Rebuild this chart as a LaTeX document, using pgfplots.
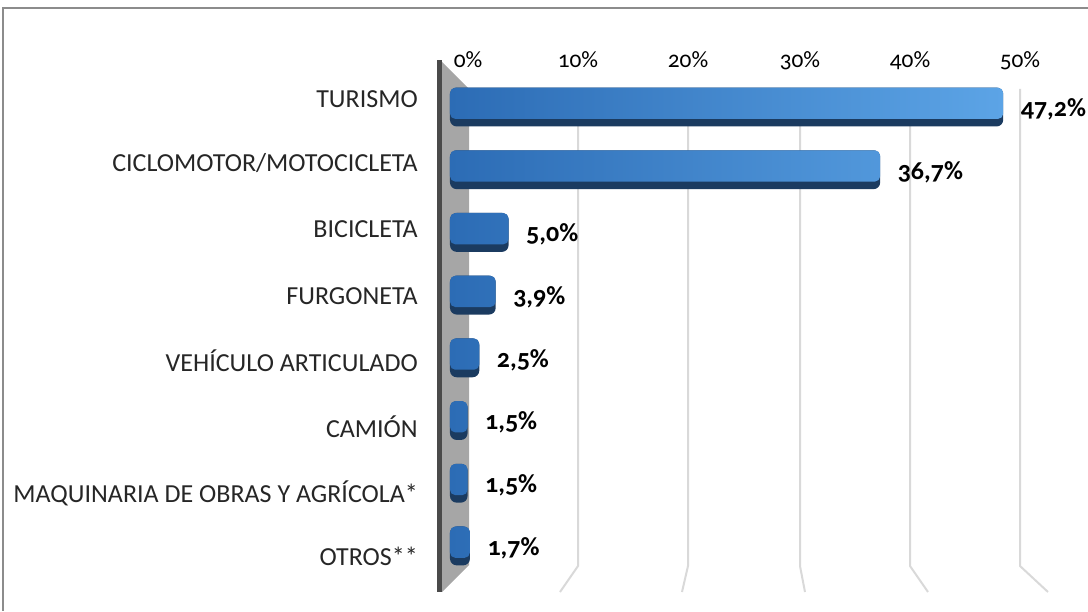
\documentclass[border=0pt]{standalone}
\usepackage{fontspec}
\setmainfont{Carlito}
\newfontfamily\numfont[Numbers=OldStyle]{Carlito}
\usepackage{pgfplots}
\pgfplotsset{compat=1.18}
\definecolor{barL}{HTML}{2C6CB5}
\definecolor{barR}{HTML}{5CA4E6}
\definecolor{barD}{HTML}{1B3B60}
\definecolor{wall}{HTML}{A6A6A6}
\definecolor{walledge}{HTML}{4A4A4A}
\definecolor{gridc}{HTML}{D9D9D9}
\definecolor{framec}{HTML}{8C8C8C}

\begin{document}
\begin{tikzpicture}
% backdrop drawn in pixel units of the reference (y down)
\begin{scope}[x=0.75pt,y=-0.75pt,shift={(-327.75pt,442.5pt)}]
  \useasboundingbox (0,0) rectangle (1088,611);
  \draw[framec, line width=1.2] (1088,8) -- (3,8) -- (3,611);
  % side wall
  \fill[wall] (442,62) -- (469,89) -- (469,565) -- (442,592) -- cycle;
  \fill[walledge] (437,60) rectangle (442,592);
  % back grid lines with their floor part
  \foreach \a/\b in {578/560, 688/682, 800/805, 910/928, 1020/1048}
    \draw[gridc, line width=1.5] (\a,89) -- (\a,566) -- (\b,592);
\end{scope}

\begin{axis}[
  at={(0,0)}, anchor=south west,
  scale only axis, width=471pt, height=396pt,
  xbar, y dir=reverse,
  xmin=-1.109, xmax=52.47, ymin=-0.718, ymax=7.703,
  axis line style={draw=none}, major tick length=0pt,
  clip=false,
  xtick={1.54,10.92,20.31,29.86,39.25,48.63},
  xticklabels={0\%,10\%,20\%,30\%,40\%,50\%},
  xticklabel pos=right,
  xticklabel style={font=\numfont\fontsize{17.5}{17.5}\selectfont, anchor=base, inner sep=0pt, yshift=-3.75pt},
  ytick={-0.128,0.893,1.946,3.014,4.051,5.104,6.156,7.161},
  yticklabels={TURISMO, CICLOMOTOR/MOTOCICLETA, BICICLETA, FURGONETA,
    VEHÍCULO ARTICULADO, CAMIÓN, MAQUINARIA DE OBRAS Y AGRÍCOLA*, OTROS**},
  yticklabel style={font=\fontsize{19.5}{19.5}\selectfont, anchor=east, inner sep=0pt, xshift=-14.25pt, text=black!85},
]
% dark underside of each bar
\addplot[draw=none, fill=barD, bar width=0.62, bar shift=0, rounded corners=5pt]
  coordinates {(47.2,0) (36.7,1) (5.0,2) (3.9,3) (2.5,4) (1.5,5) (1.5,6) (1.7,7)};
% lit face of each bar, with the values
\addplot[draw=none, left color=barL, right color=barR, bar width=0.50, bar shift=-0.06,
  rounded corners=4pt,
  point meta=x,
  nodes near coords={\pgfmathprintnumber[fixed, fixed zerofill, precision=1, use comma, assume math mode=true]{\pgfplotspointmeta}\%},
  nodes near coords style={font=\numfont\bfseries\fontsize{19.5}{19.5}\selectfont, anchor=west, inner sep=0pt, xshift=13pt, yshift=-4.5pt, text=black}]
  coordinates {(47.2,0) (36.7,1) (5.0,2) (3.9,3) (2.5,4) (1.5,5) (1.5,6) (1.7,7)};
\end{axis}
\end{tikzpicture}
\end{document}
